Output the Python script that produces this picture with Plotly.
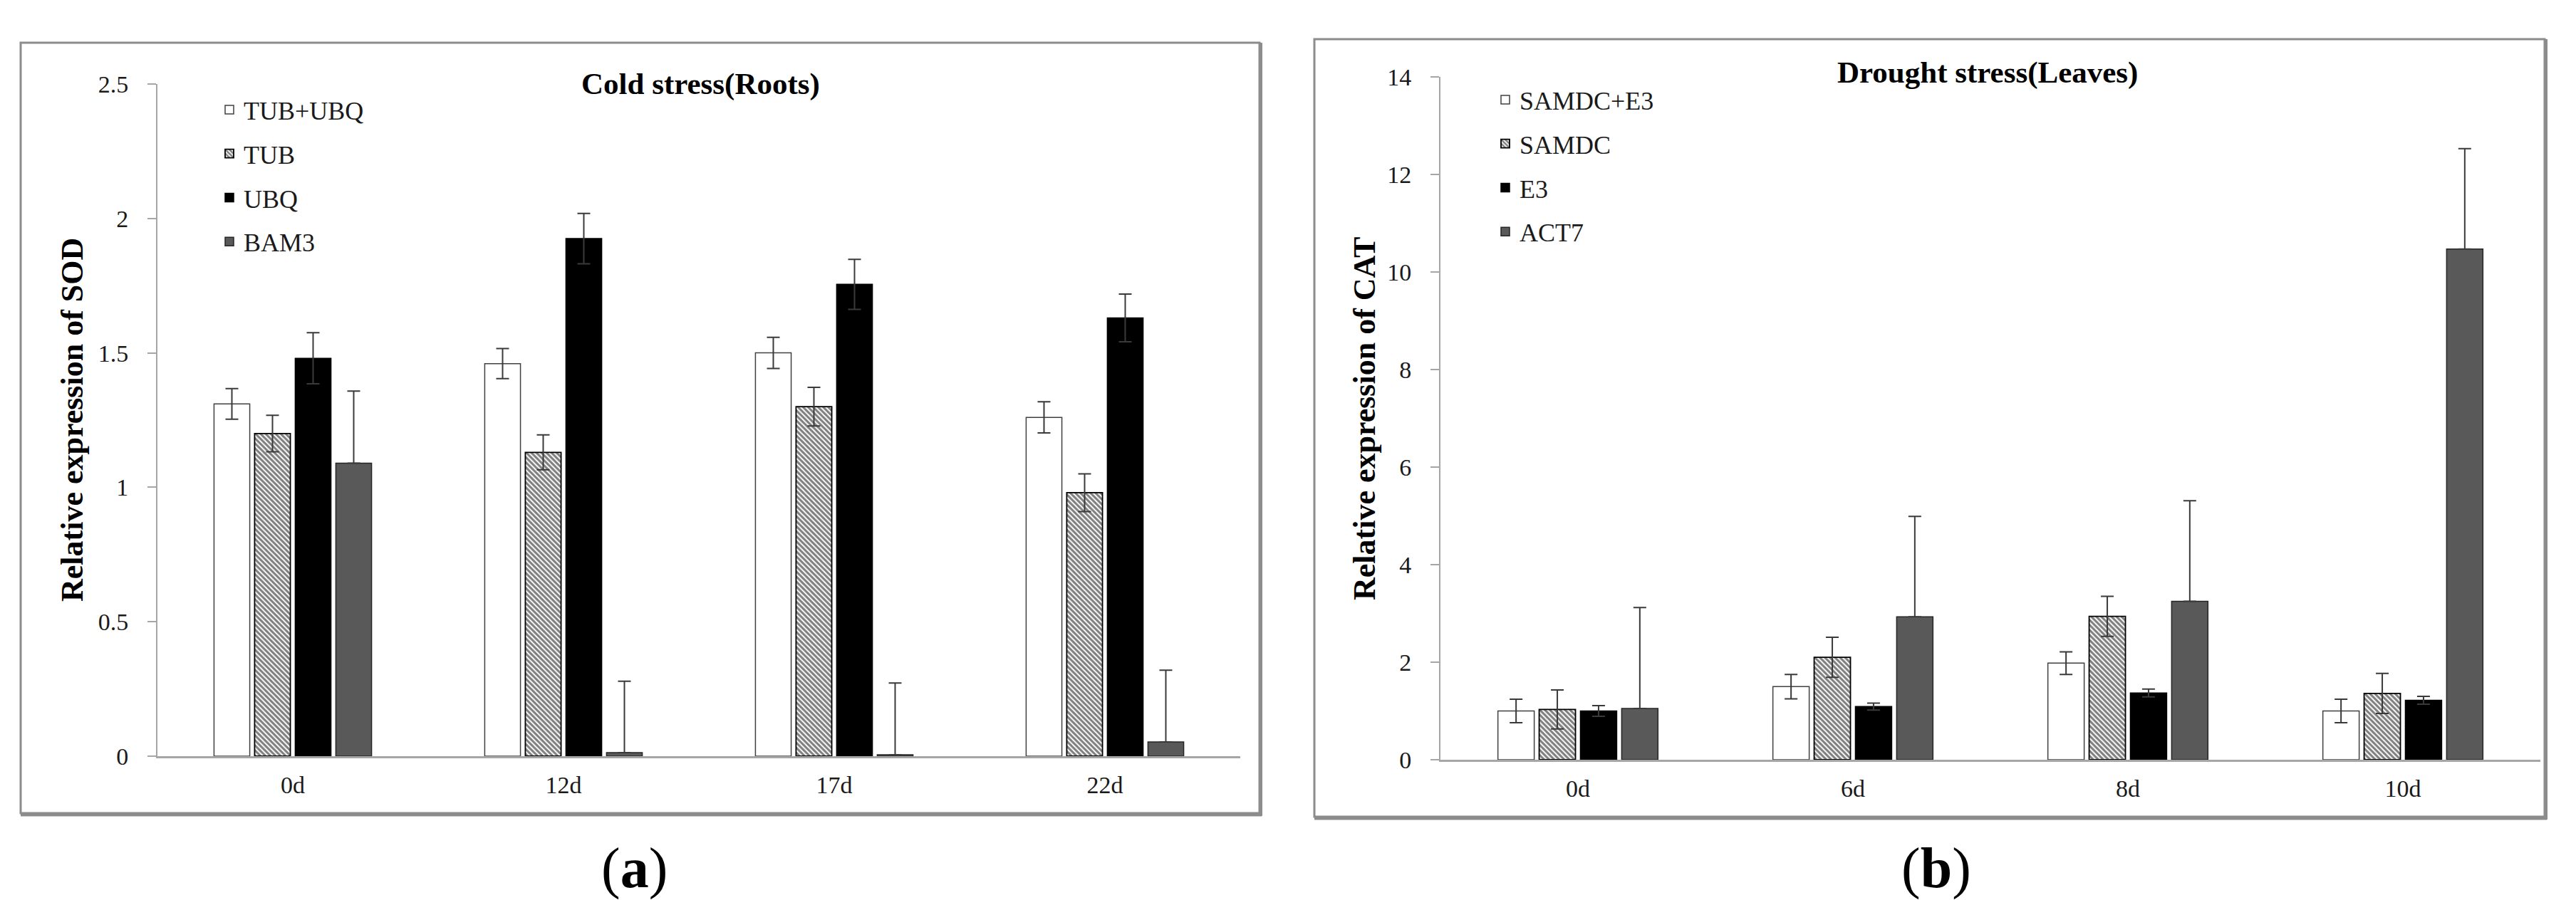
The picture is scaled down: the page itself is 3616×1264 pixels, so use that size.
import plotly.graph_objects as go

W, H = 3616, 1264
OFF = 8  # page body margin offset compensation
FONT = "Liberation Serif, Times New Roman, serif"

# ---------------- data ----------------
days_a = ["0d", "12d", "17d", "22d"]
series_a = ["TUB+UBQ", "TUB", "UBQ", "BAM3"]
tub_ubq = [1.31, 1.46, 1.50, 1.26]
tub_ubq_err = [0.057, 0.056, 0.058, 0.058]
tub = [1.20, 1.13, 1.30, 0.98]
tub_err = [0.068, 0.065, 0.072, 0.070]
ubq = [1.48, 1.925, 1.755, 1.63]
ubq_err = [0.095, 0.094, 0.093, 0.089]
bam3 = [1.09, 0.013, 0.005, 0.053]
bam3_err = [0.268, 0.266, 0.267, 0.267]

days_b = ["0d", "6d", "8d", "10d"]
series_b = ["SAMDC+E3", "SAMDC", "E3", "ACT7"]
samdc_e3 = [1.0, 1.5, 1.98, 1.0]
samdc_e3_err = [0.24, 0.25, 0.23, 0.24]
samdc = [1.03, 2.1, 2.94, 1.36]
samdc_err = [0.40, 0.41, 0.41, 0.41]
e3 = [1.0, 1.09, 1.37, 1.22]
e3_err = [0.11, 0.07, 0.08, 0.08]
act7 = [1.05, 2.93, 3.25, 10.47]
act7_err = [2.07, 2.06, 2.06, 2.06]

y_ticks_a = [0, 0.5, 1, 1.5, 2, 2.5]
y_tick_text_a = ["0", "0.5", "1", "1.5", "2", "2.5"]
y_ticks_b = [0, 2, 4, 6, 8, 10, 12, 14]
y_tick_text_b = ["0", "2", "4", "6", "8", "10", "12", "14"]


def px(x):
    return (x - OFF) / W


def py(y):
    return 1 - (y - OFF) / H


styles = [
    dict(color="#ffffff", line=dict(color="#404040", width=1.5)),
    dict(color="#ffffff", line=dict(color="#000000", width=1.8),
         pattern=dict(shape="\\", fgcolor="#000000", bgcolor="#ffffff", size=5, solidity=0.62)),
    dict(color="#000000", line=dict(color="#000000", width=1.5)),
    dict(color="#595959", line=dict(color="#262626", width=1.5)),
]

fig = go.Figure()

panel_a = [(tub_ubq, tub_ubq_err), (tub, tub_err), (ubq, ubq_err), (bam3, bam3_err)]
panel_b = [(samdc_e3, samdc_e3_err), (samdc, samdc_err), (e3, e3_err), (act7, act7_err)]


def err_spec(errs, plus_only):
    d = dict(type="data", array=errs, visible=True, color="#3a3a3a", thickness=2, width=9)
    if plus_only:
        d.update(symmetric=False, arrayminus=[0] * len(errs))
    return d


for i, (name, (vals, errs)) in enumerate(zip(series_a, panel_a)):
    fig.add_trace(go.Bar(
        x=days_a, y=vals, name=name, marker=styles[i],
        error_y=err_spec(errs, i == 3),
        xaxis="x", yaxis="y", legend="legend", legendgroup="a%d" % i,
    ))
for i, (name, (vals, errs)) in enumerate(zip(series_b, panel_b)):
    fig.add_trace(go.Bar(
        x=days_b, y=vals, name=name, marker=styles[i],
        error_y=err_spec(errs, i == 3),
        xaxis="x2", yaxis="y2", legend="legend2", legendgroup="b%d" % i,
    ))

tickfont = dict(family=FONT, size=34, color="#1a1a1a")
axis_line = "#a6a6a6"

common_x = dict(showgrid=False, zeroline=False, showline=True, linecolor=axis_line, linewidth=3,
                ticks="", tickfont=tickfont, ticklabelstandoff=8, fixedrange=True, automargin=False)
common_y = dict(showgrid=False, zeroline=False, showline=True, linecolor=axis_line, linewidth=2,
                ticks="outside", ticklen=12, tickcolor=axis_line, tickwidth=2,
                tickfont=tickfont, ticklabelstandoff=20, fixedrange=True, automargin=False)

legend_font = dict(family=FONT, size=36, color="#1a1a1a")

fig.update_layout(
    width=W, height=H, autosize=False,
    margin=dict(l=0, r=0, t=0, b=0, pad=0, autoexpand=False),
    paper_bgcolor="white", plot_bgcolor="white",
    barmode="group", bargap=0.4, bargroupgap=0.12,
    font=dict(family=FONT, color="#1a1a1a"),
    xaxis=dict(domain=[px(221), px(1741)], anchor="y", **common_x),
    yaxis=dict(domain=[py(1062), py(118)], anchor="x", range=[0, 2.5],
               tickvals=y_ticks_a, ticktext=y_tick_text_a, **common_y),
    xaxis2=dict(domain=[px(2022), px(3566)], anchor="y2", **common_x),
    yaxis2=dict(domain=[py(1067), py(108)], anchor="x2", range=[0, 14],
                tickvals=y_ticks_b, ticktext=y_tick_text_b, **common_y),
    legend=dict(x=px(302), y=py(124), xanchor="left", yanchor="top", font=legend_font,
                traceorder="grouped", tracegroupgap=12, bgcolor="rgba(0,0,0,0)"),
    legend2=dict(x=px(2093), y=py(110), xanchor="left", yanchor="top", font=legend_font,
                 traceorder="grouped", tracegroupgap=12, bgcolor="rgba(0,0,0,0)"),
)

# panel frames (with shadowed bottom/right edges)
frames = [(29, 60, 1768, 1142), (1845, 55, 3572, 1147)]
for (x0, y0, x1, y1) in frames:
    fig.add_shape(type="rect", xref="paper", yref="paper", x0=px(x0), y0=py(y0), x1=px(x1), y1=py(y1),
                  line=dict(color="#8c8c8c", width=3), layer="below")
    fig.add_shape(type="line", xref="paper", yref="paper", x0=px(x0), y0=py(y1 + 2), x1=px(x1 + 3), y1=py(y1 + 2),
                  line=dict(color="#8c8c8c", width=5))
    fig.add_shape(type="line", xref="paper", yref="paper", x0=px(x1 + 2), y0=py(y0), x1=px(x1 + 2), y1=py(y1 + 4),
                  line=dict(color="#8c8c8c", width=4))

title_font = dict(family=FONT, size=43, color="#000000")
ann = [
    dict(x=px(984), y=py(118), text="<b>Cold stress(Roots)</b>", font=title_font),
    dict(x=px(2790), y=py(102), text="<b>Drought stress(Leaves)</b>", font=title_font),
    dict(x=px(101), y=py(590), text="<b>Relative expression of SOD</b>", textangle=-90,
         font=dict(family=FONT, size=44, color="#000000")),
    dict(x=px(1915), y=py(588), text="<b>Relative expression of CAT</b>", textangle=-90,
         font=dict(family=FONT, size=44, color="#000000")),
    dict(x=px(890), y=py(1219), text="(<b>a</b>)", font=dict(family=FONT, size=80, color="#000000")),
    dict(x=px(2718), y=py(1219), text="(<b>b</b>)", font=dict(family=FONT, size=80, color="#000000")),
]
for a in ann:
    fig.add_annotation(xref="paper", yref="paper", showarrow=False, xanchor="center", yanchor="middle", **a)

fig.write_html("out.html")
